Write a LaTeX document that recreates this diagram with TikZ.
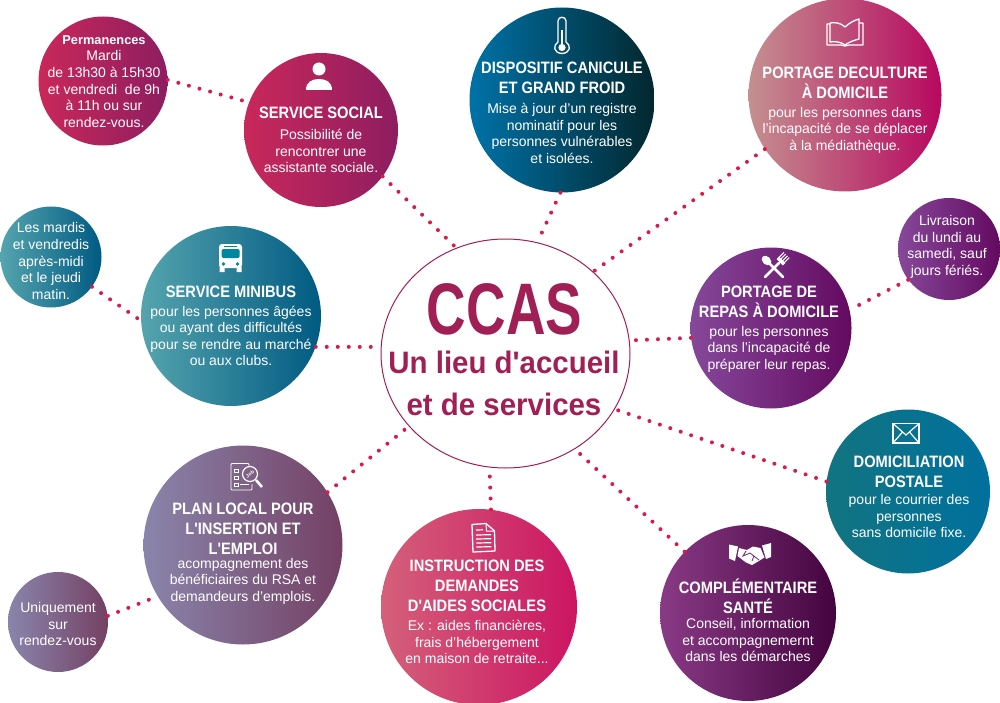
\documentclass[tikz,border=0pt]{standalone}
\usepackage{fontspec}
\usetikzlibrary{shapes.geometric}
\setmainfont{Liberation Sans}
\newfontfamily\ttlfont[FakeStretch=0.89]{Liberation Sans}
\newfontfamily\bigfont[FakeStretch=0.75]{Liberation Sans}
\newfontfamily\midfont[FakeStretch=0.95]{Liberation Sans}
\definecolor{dotc}{HTML}{D81B4B}
\definecolor{wine}{HTML}{A01F55}
\definecolor{rubyL}{HTML}{C9285A}
\definecolor{rubyR}{HTML}{8E1D60}
\definecolor{tealL}{HTML}{55A4AE}
\definecolor{tealM}{HTML}{008FA3}
\definecolor{tealR}{HTML}{005A82}
\definecolor{blueL}{HTML}{0072A8}
\definecolor{blueM}{HTML}{005A78}
\definecolor{blueR}{HTML}{02272E}
\definecolor{roseL}{HTML}{C49090}
\definecolor{roseR}{HTML}{B7085F}
\definecolor{violL}{HTML}{86489A}
\definecolor{violR}{HTML}{630A60}
\definecolor{petrL}{HTML}{127480}
\definecolor{petrR}{HTML}{00709E}
\definecolor{plumL}{HTML}{893A85}
\definecolor{plumR}{HTML}{44043F}
\definecolor{pinkL}{HTML}{D4607A}
\definecolor{pinkR}{HTML}{CC1562}
\definecolor{mauvL}{HTML}{8A85AB}
\definecolor{mauvR}{HTML}{744064}
\tikzset{
  disc/.style={circle,inner sep=0pt,minimum size=#1},
  ruby/.style={left color=rubyL,right color=rubyR},
  tealg/.style={left color=tealL,middle color=tealM,right color=tealR},
  blueg/.style={left color=blueL,middle color=blueM,right color=blueR},
  roseg/.style={left color=roseL,right color=roseR},
  violg/.style={left color=violL,right color=violR},
  petrg/.style={left color=petrL,right color=petrR},
  plumg/.style={left color=plumL,right color=plumR},
  pinkg/.style={left color=pinkL,right color=pinkR},
  mauvg/.style={left color=mauvL,right color=mauvR},
  ttl/.style={text=white,align=center,inner sep=0pt,font=\ttlfont\bfseries\fontsize{16.5}{20}\selectfont},
  body/.style={text=white,align=center,inner sep=0pt,font=\fontsize{14}{16.6}\selectfont},
  dotline/.style={draw=dotc,line width=4pt,line cap=round,dash pattern=on 0pt off 11pt},
  winetext/.style={text=wine,inner sep=0pt,align=center},
  ico/.style={draw=white,line width=1.3pt,line join=round},
}
\begin{document}
\begin{tikzpicture}[x=1pt,y=-1pt]
\useasboundingbox (0,0) rectangle (1000,703);
% discs
\node[disc=129pt,ruby]  (perm)  at (103,81)  {};
\node[disc=154pt,ruby]  (soc)   at (321,130) {};
\node[disc=185pt,blueg] (canic) at (562,100) {};
\node[disc=193pt,roseg] (cult)  at (845,95)  {};
\node[disc=102pt,violg] (livr)  at (949,249) {};
\node[disc=161pt,violg] (repas) at (771,328) {};
\node[disc=164pt,petrg] (domi)  at (908,491.5) {};
\node[disc=176pt,plumg] (compl) at (748,613) {};
\node[disc=196pt,pinkg] (instr) at (479,607) {};
\node[disc=199pt,mauvg] (plan)  at (243,545) {};
\node[disc=100pt,mauvg] (uniq)  at (58,622)  {};
\node[disc=101pt,tealg] (mard)  at (51,257)  {};
\node[disc=180pt,tealg] (mini)  at (231,316) {};
\node[ellipse,draw=wine,line width=1pt,inner sep=0pt,minimum width=249pt,minimum height=229pt] (ccas) at (505.5,353.5) {};
% connectors
\draw[dotline] (perm.1) -- (soc.159.6);
\draw[dotline] (soc.-37) -- (ccas.115.8);
\draw[dotline] (canic.-91) -- (ccas.74.5);
\draw[dotline] (cult.214.6) -- (ccas.43.3);
\draw[dotline] (repas.187) -- (ccas.6);
\draw[dotline] (livr.217) -- (repas.13.5);
\draw[dotline] (domi.173.7) -- (ccas.-27.3);
\draw[dotline] (compl.136) -- (ccas.-54.9);
\draw[dotline] (instr.83) -- (ccas.262.8);
\draw[dotline] (plan.32.2) -- (ccas.217);
\draw[dotline] (uniq.7.7) -- (plan.211.7);
\draw[dotline] (mard.-36.7) -- (mini.183.8);
\draw[dotline] (mini.-20.7) -- (ccas.177);
% central text
\node[winetext,font=\bigfont\bfseries\fontsize{73}{80}\selectfont] (t0) at (504.5,309.5) {CCAS};
\node[winetext,font=\midfont\bfseries\fontsize{31}{36}\selectfont] (t1) at (504,362) {Un lieu d'accueil};
\node[winetext,font=\midfont\bfseries\fontsize{31}{36}\selectfont] (t2) at (504,404) {et de services};
% texts
\node[body] (tperm) at (104,81.5) {{\bfseries\fontsize{12.8}{16.6}\selectfont Permanences}\\Mardi\\de 13h30 à 15h30\\et vendredi\ \ de 9h\\à 11h ou sur\\rendez-vous.};
\node[ttl] (tsoc) at (321,113) {SERVICE SOCIAL};
\node[body] (bsoc) at (321,151) {Possibilité de\\rencontrer une\\assistante sociale.};
\node[ttl] (tcanic) at (562,78) {DISPOSITIF CANICULE\\ET GRAND FROID};
\node[body] (bcanic) at (562,133.5) {Mise à jour d'un registre\\nominatif pour les\\personnes vulnérables\\et isolées.};
\node[ttl] (tcult) at (845,83) {PORTAGE DECULTURE\\À DOMICILE};
\node[body] (bcult) at (845,130) {pour les personnes dans\\l'incapacité de se déplacer\\à la médiathèque.};
\node[body] (blivr) at (947,247) {Livraison\\du lundi au\\samedi, sauf\\jours fériés.};
\node[ttl] (trepas) at (769,302) {PORTAGE DE\\REPAS À DOMICILE};
\node[body] (brepas) at (769,349) {pour les personnes\\dans l'incapacité de\\préparer leur repas.};
\node[ttl] (tdomi) at (909,472) {DOMICILIATION\\POSTALE};
\node[body] (bdomi) at (909,516) {pour le courrier des\\personnes\\sans domicile fixe.};
\node[ttl] (tcompl) at (748,596) {COMPLÉMENTAIRE\\SANTÉ};
\node[body] (bcompl) at (748,640) {Conseil, information\\et accompagnemernt\\dans les démarches};
\node[ttl] (tinstr) at (477,586) {INSTRUCTION DES\\DEMANDES\\D'AIDES SOCIALES};
\node[body] (binstr) at (477,642) {Ex : aides financières,\\frais d'hébergement\\en maison de retraite...};
\node[ttl] (tplan) at (243,529) {PLAN LOCAL POUR\\L'INSERTION ET\\L'EMPLOI};
\node[body] (bplan) at (243,581) {acompagnement des\\bénéficiaires du RSA et\\demandeurs d'emplois.};
\node[body] (buniq) at (58,624) {Uniquement\\sur\\rendez-vous};
\node[body] (bmard) at (51,261) {Les mardis\\et vendredis\\après-midi\\et le jeudi\\matin.};
\node[ttl] (tmini) at (231,292) {SERVICE MINIBUS};
\node[body] (bmini) at (231,336) {pour les personnes âgées\\ou ayant des difficultés\\pour se rendre au marché\\ou aux clubs.};
% icon: person
\fill[white] (319,69) circle (6.5);
\fill[white] (306,90) .. controls (306,82) and (312,79) .. (319,79) .. controls (326,79) and (332,82) .. (332,90) -- cycle;
% icon: thermometer
\draw[ico] (558,42) -- (558,21) .. controls (558,16) and (566,16) .. (566,21) -- (566,42) .. controls (571,45) and (571,53) .. (562,53.5) .. controls (553,53) and (553,45) .. (558,42) -- cycle;
\fill[white] (562,47.5) circle (3.6);
\draw[white,line width=1.4pt] (562,30) -- (562,47);
% icon: book
\draw[ico] (845,27) .. controls (841,23) and (835,22) .. (830,23) -- (830,42) .. controls (835,41) and (841,42) .. (845,45) .. controls (849,42) and (855,40) .. (859,39) -- (859,19) .. controls (855,20) and (849,23) .. (845,27) -- cycle;
\draw[ico] (830,24) -- (827,24) -- (827,45) -- (841,45) -- (845,46) -- (849,45) -- (863,45) -- (863,23) -- (859,23);
% icon: spoon and fork
\draw[white,line width=2.6pt,line cap=round] (783,277) -- (768,262);
\fill[white,rotate around={-45:(766.5,260.5)}] (766.5,260.5) ellipse (5.5 and 4);
\draw[white,line width=2.6pt,line cap=round] (765,277) -- (779,263);
\fill[white,rotate around={-45:(781.5,260.5)}] (777,259.5) rectangle (786,263);
\foreach \tx in {777.5,780,782.5,785}
  \draw[white,line width=1.1pt,rotate around={-45:(781.5,260.5)}] (\tx,260) -- (\tx,253);
% icon: bus
\fill[white,rounded corners=3pt] (219,244) rectangle (242,268);
\fill[tealM!85!tealR,rounded corners=1.5pt] (221.5,249) rectangle (239.5,258);
\fill[tealM!85!tealR] (224,245.8) rectangle (237,247);
\fill[tealM!85!tealR] (223.5,264) circle (1.8) (237.5,264) circle (1.8);
\fill[white] (219.5,267) rectangle (224.5,272) (236.5,267) rectangle (241.5,272);
% icon: envelope
\draw[white,line width=1.5pt] (893,423.5) rectangle (919,443);
\draw[white,line width=1.2pt] (893,423.5) -- (906,435) -- (919,423.5) (893,443) -- (902.5,432) (919,443) -- (909.5,432);
% icon: handshake
\fill[white] (729,544.5) -- (738,546.5) -- (735,561) -- (729,558.5) -- cycle;
\fill[white] (771,543) -- (762,545.5) -- (766,559) -- (771,557) -- cycle;
\fill[white] (739,548) -- (747,550) -- (753,546.5) -- (760.5,548) -- (764.5,557.5) -- (758,561.5) -- (752,565) -- (746,562.5) -- (737.5,556) -- cycle;
\draw[plumL!60!plumR,line width=0.8pt] (746,551) -- (743,556) -- (750,553) -- (759,560) (754,556) -- (752,561);
% icon: document
\draw[ico] (472,524.5) -- (486,523.5) -- (494.5,531) -- (495,551) -- (473,552) -- cycle;
\draw[white,line width=1pt] (486,523.5) -- (486.5,531) -- (494.5,531);
\draw[white,line width=1.2pt] (476,530) -- (483,529.8) (476,535) -- (491,534.7) (476.2,539) -- (491.2,538.7) (476.3,543) -- (491.3,542.7) (476.4,547) -- (491.4,546.7);
% icon: job search
\draw[white,line width=0.9pt,rounded corners=1pt] (249,466) -- (249,463.5) -- (231,463.5) -- (231,490) -- (252,490) -- (252,484);
\draw[white,line width=0.8pt] (234.5,469) rectangle (238,472.5) (234.5,476) rectangle (238,479.5) (234.5,483) rectangle (238,486.5) (240,484.5) -- (249,484.5);
\draw[white,line width=1.2pt] (250,474) circle (7.5);
\draw[white,line width=2.6pt] (256,480) -- (262,487);
\node[text=white,inner sep=0pt,rotate=35,font=\bfseries\fontsize{5}{5}\selectfont] (tjob) at (250,474) {Job};
\end{tikzpicture}
\end{document}
